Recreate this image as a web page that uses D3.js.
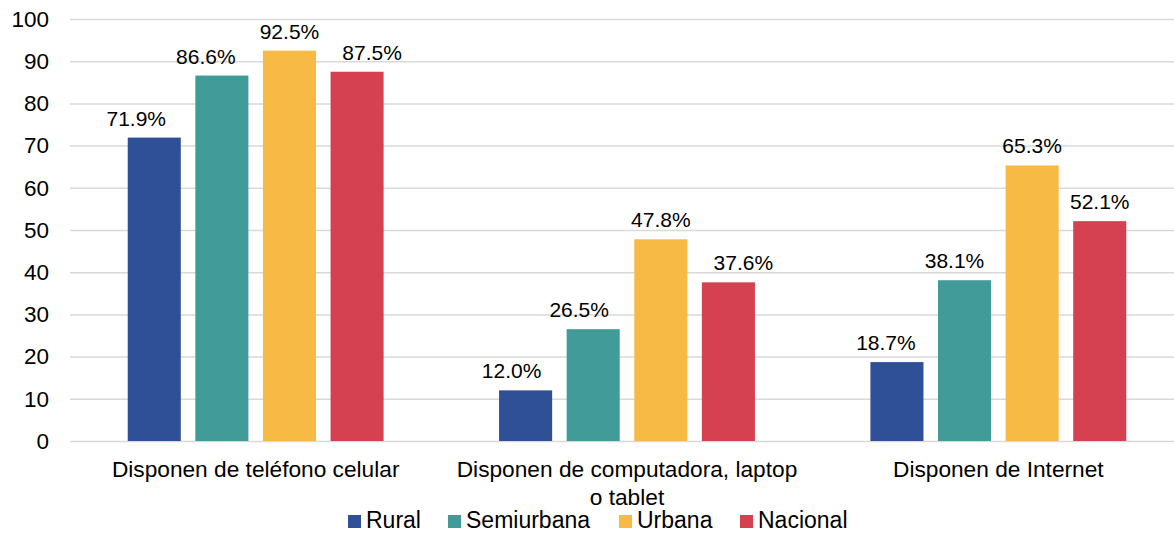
<!DOCTYPE html>
<html>
<head>
<meta charset="utf-8">
<script src="https://cdn.jsdelivr.net/npm/d3@7"></script>
<style>
  body { margin: 0; background: #fff; }
  svg text { font-family: "Liberation Sans", Arial, sans-serif; fill: #000; }
</style>
</head>
<body>
<div id="container"></div>
<script>
var categories = ["Disponen de teléfono celular", "Disponen de computadora, laptop\no tablet", "Disponen de Internet"]
var series = ["Rural", "Semiurbana", "Urbana", "Nacional"]
var colors = ["#2F5097", "#419B98", "#F7BA45", "#D64152"]
var rural = [71.9, 12.0, 18.7]
var semiurbana = [86.6, 26.5, 38.1]
var urbana = [92.5, 47.8, 65.3]
var nacional = [87.5, 37.6, 52.1]
var yTicks = [0, 10, 20, 30, 40, 50, 60, 70, 80, 90, 100]

var values = [rural, semiurbana, urbana, nacional]
var scene_width = 1174, scene_height = 533

// labels in the original are nudged sideways a bit (per series, per group)
var labelNudge = [[-18, -14, -11], [-16, -14, -10], [0, 0, 0], [15, 15, 0]]

var svg = d3.select('#container').append('svg')
    .attr('width', scene_width)
    .attr('height', scene_height)

var y = d3.scaleLinear().domain([0, 100]).range([441, 19])
var x0 = d3.scaleBand().domain(categories).range([70, 1184]).padding(0)
var x1 = d3.scaleBand().domain(series).range([0, x0.bandwidth()])
    .paddingInner(0.215).paddingOuter(0.854)
var color = d3.scaleOrdinal().domain(series).range(colors)

// gridlines + y labels
var yAxis = svg.append('g')
    .attr('transform', 'translate(70,0)')
    .call(d3.axisLeft(y).tickValues(yTicks).tickSize(-(scene_width - 70)).tickPadding(21))
yAxis.select('.domain').remove()
yAxis.selectAll('line').attr('stroke', '#D9D9D9').attr('stroke-width', 1.5)
yAxis.selectAll('text').attr('font-size', 22.5).attr('font-family', '"Liberation Sans", Arial, sans-serif').attr('fill', '#000')

// bars
var groups = svg.append('g').selectAll('g')
    .data(categories)
    .join('g')
    .attr('transform', d => 'translate(' + x0(d) + ',0)')

groups.each(function(cat, ci) {
    var g = d3.select(this)
    series.forEach(function(s, si) {
        var v = values[si][ci]
        g.append('rect')
            .attr('x', x1(s))
            .attr('y', y(v))
            .attr('width', x1.bandwidth())
            .attr('height', y(0) - y(v))
            .attr('fill', color(s))
        g.append('text')
            .attr('x', x1(s) + x1.bandwidth() / 2 + labelNudge[si][ci])
            .attr('y', y(v) - 12)
            .attr('text-anchor', 'middle')
            .attr('font-size', 21)
            .text(v.toFixed(1) + '%')
    })
})

// category labels
categories.forEach(function(c) {
    var cx = x0(c) + x0.bandwidth() / 2
    var t = svg.append('text')
        .attr('x', cx)
        .attr('y', 477)
        .attr('text-anchor', 'middle')
        .attr('font-size', 22.7)
    c.split('\n').forEach(function(line, i) {
        t.append('tspan')
            .attr('x', cx)
            .attr('dy', i == 0 ? 0 : 28)
            .text(line)
    })
})

// legend
var legendX = [348, 448, 619, 740]
var legend = svg.append('g')
series.forEach(function(s, i) {
    legend.append('rect')
        .attr('x', legendX[i]).attr('y', 515)
        .attr('width', 13).attr('height', 13)
        .attr('fill', color(s))
    legend.append('text')
        .attr('x', legendX[i] + 18).attr('y', 528)
        .attr('font-size', 23)
        .text(s)
})
</script>
</body>
</html>
